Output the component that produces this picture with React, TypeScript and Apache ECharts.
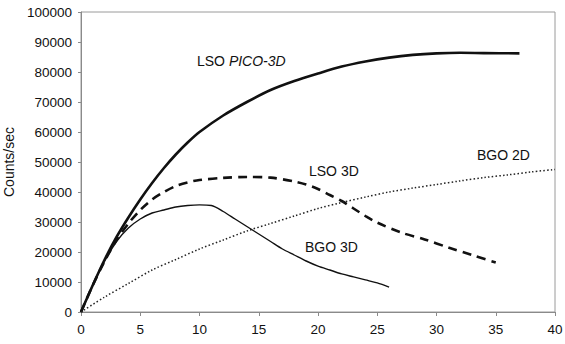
import React, { useEffect, useRef } from "react";
import * as echarts from "echarts";

const xTicks = [0, 5, 10, 15, 20, 25, 30, 35, 40];
const yTicks = [0, 10000, 20000, 30000, 40000, 50000, 60000, 70000, 80000, 90000, 100000];

const lsoPico: [number, number][] = [
  [0, 0], [1, 9000], [2, 17500], [3, 25000], [4, 31500], [5, 37500], [6, 43000], [7, 48000],
  [8, 52500], [9, 56500], [10, 60000], [12, 65500], [14, 70000], [16, 74000], [18, 77000],
  [20, 79500], [22, 81800], [24, 83500], [26, 84800], [28, 85700], [30, 86200], [32, 86400],
  [34, 86300], [37, 86200],
];
const lso3d: [number, number][] = [
  [0, 0], [1, 9000], [2, 17000], [3, 24000], [4, 29500], [5, 34000], [6, 37500], [7, 40000],
  [8, 42000], [9, 43200], [10, 44000], [12, 44700], [14, 45000], [16, 44800], [18, 43500],
  [19, 42500], [20, 41000], [21, 39000], [22, 37000], [23, 34500], [24, 32000], [25, 29800],
  [27, 26500], [29, 24200], [31, 21500], [33, 19000], [35, 16500],
];
const bgo3d: [number, number][] = [
  [0, 0], [1, 9000], [2, 17000], [3, 23500], [4, 28000], [5, 31000], [6, 33000], [7, 34000],
  [8, 35000], [9, 35500], [10, 35700], [11, 35500], [12, 33500], [13, 31000], [14, 28500],
  [15, 26000], [16, 23500], [17, 21000], [18, 19000], [19, 17000], [20, 15300], [21, 14000],
  [22, 12700], [23, 11700], [24, 10700], [25, 9700], [26, 8300],
];
const bgo2d: [number, number][] = [
  [0, 0], [2, 5000], [4, 9500], [6, 14000], [8, 17500], [10, 21000], [12, 24000], [14, 27000],
  [16, 29500], [18, 32000], [20, 34500], [22, 36500], [24, 38300], [26, 40000], [28, 41300],
  [30, 42500], [32, 43700], [34, 44800], [36, 45700], [38, 46700], [40, 47500],
];

const FONT = "'Liberation Sans', Arial, sans-serif";

export default function App() {
  const ref = useRef<HTMLDivElement>(null);
  useEffect(() => {
    if (!ref.current) return;
    const chart = echarts.init(ref.current, null, { renderer: "svg" });
    const axisLine = { show: true, lineStyle: { color: "#8a8a8a", width: 1 } };
    chart.setOption({
      animation: false,
      backgroundColor: "#fff",
      textStyle: { fontFamily: FONT },
      grid: {
        left: 81, right: 10, top: 12, bottom: 32,
        containLabel: false, outerBoundsMode: "none",
        show: true, borderColor: "#9a9a9a", borderWidth: 1,
      },
      xAxis: {
        type: "value", min: xTicks[0], max: xTicks[xTicks.length - 1], interval: 5,
        axisLine, splitLine: { show: false },
        axisTick: { show: true, inside: false, length: 4, lineStyle: { color: "#8a8a8a" } },
        axisLabel: { color: "#111", fontSize: 13.5, fontFamily: FONT, margin: 10 },
      },
      yAxis: {
        type: "value", min: yTicks[0], max: yTicks[yTicks.length - 1], interval: 10000,
        name: "Counts/sec", nameLocation: "middle", nameGap: 63,
        nameTextStyle: { color: "#111", fontSize: 14, fontFamily: FONT },
        axisLine, splitLine: { show: false },
        axisTick: { show: true, inside: false, length: 3, lineStyle: { color: "#8a8a8a" } },
        axisLabel: { color: "#111", fontSize: 13.5, fontFamily: FONT, margin: 9,
          formatter: (v: number) => String(v) },
      },
      series: [
        { name: "LSO PICO-3D", type: "line", data: lsoPico, smooth: 0.3, showSymbol: false,
          lineStyle: { color: "#111", width: 2.6 } },
        { name: "LSO 3D", type: "line", data: lso3d, smooth: 0.3, showSymbol: false,
          lineStyle: { color: "#111", width: 2.6, type: [9, 6] } },
        { name: "BGO 3D", type: "line", data: bgo3d, smooth: 0.3, showSymbol: false,
          lineStyle: { color: "#111", width: 1.4 } },
        { name: "BGO 2D", type: "line", data: bgo2d, smooth: 0.3, showSymbol: false,
          lineStyle: { color: "#222", width: 1.5, type: [1.5, 2.2] } },
      ],
      graphic: [
        { type: "text", left: 197, top: 54, style: {
          text: "{a|LSO }{b|PICO-3D}",
          rich: {
            a: { fontSize: 14, fontFamily: FONT, fill: "#111" },
            b: { fontSize: 14, fontFamily: FONT, fill: "#111", fontStyle: "italic" },
          },
        } },
        { type: "text", left: 309, top: 164, style: { text: "LSO 3D", fontSize: 14, fontFamily: FONT, fill: "#111" } },
        { type: "text", left: 477, top: 148, style: { text: "BGO 2D", fontSize: 14, fontFamily: FONT, fill: "#111" } },
        { type: "text", left: 305, top: 240, style: { text: "BGO 3D", fontSize: 14, fontFamily: FONT, fill: "#111" } },
      ],
    });
    return () => chart.dispose();
  }, []);
  return <div ref={ref} style={{ width: 565, height: 344, position: "absolute", left: 0, top: 0 }} />;
}
